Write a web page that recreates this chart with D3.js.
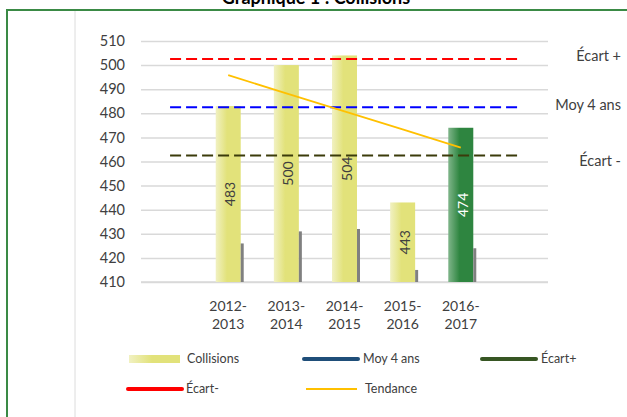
<!DOCTYPE html>
<html>
<head>
<meta charset="utf-8">
<script src="https://cdn.jsdelivr.net/npm/d3@7"></script>
<style>
  body { margin: 0; background: #fff; }
  text { font-family: Lato, "Open Sans", sans-serif; fill: #404040; }
</style>
</head>
<body>
<div id="chart"></div>
<script>
// Chart data
const periods = ["2012-2013", "2013-2014", "2014-2015", "2015-2016", "2016-2017"];
const collisions = [483, 500, 504, 443, 474];
const secondary = [426, 431, 432, 415, 424];
const tendance = [495.8, 488.3, 480.8, 473.3, 465.8];
const yTicks = [410, 420, 430, 440, 450, 460, 470, 480, 490, 500, 510];
const refNames = ["Écart +", "Moy 4 ans", "Écart -"];
const refValues = [502.5, 482.5, 462.5];
const refColors = ["#ff0000", "#0000ff", "#3b3b0a"];
const legendNames = ["Collisions", "Moy 4 ans", "Écart+", "Écart-", "Tendance"];
const legendColors = ["#e2e27a", "#1f4e79", "#375623", "#ff0000", "#ffc000"];

const W = 627, H = 417;
const svg = d3.select("#chart").append("svg")
  .attr("width", W).attr("height", H);

const defs = svg.append("defs");
function barGrad(id, c0, c1) {
  const g = defs.append("linearGradient").attr("id", id)
    .attr("x1", "0%").attr("x2", "100%").attr("y1", "0%").attr("y2", "0%");
  g.append("stop").attr("offset", "0%").attr("stop-color", c0);
  g.append("stop").attr("offset", "45%").attr("stop-color", c1);
  g.append("stop").attr("offset", "100%").attr("stop-color", c1);
}
barGrad("gYellow", "#f1f1c2", "#e2e27a");
barGrad("gGreen", "#7fb58a", "#2e8540");

// Title (cut at the top, like the source)
svg.append("text")
  .attr("x", 316).attr("y", 3.5)
  .attr("text-anchor", "middle")
  .style("font-size", "18px").style("font-weight", "bold").style("fill", "#000")
  .text("Graphique 1 : Collisions");

// Outer frame
svg.append("rect")
  .attr("x", 7).attr("y", 10).attr("width", 700).attr("height", 500)
  .attr("fill", "none").attr("stroke", "#3a8a45").attr("stroke-width", 2);

svg.append("line")
  .attr("x1", 75).attr("x2", 75).attr("y1", 11).attr("y2", H)
  .attr("stroke", "#dcdcdc").attr("stroke-width", 1);

// Scales
const plotLeft = 141, plotRight = 548, plotTop = 41, plotBottom = 282;
const slots = ["start"].concat(periods, ["end"]);
const x = d3.scaleBand().domain(slots).range([plotLeft, plotRight]).paddingInner(0.57).paddingOuter(0.285);
const y = d3.scaleLinear().domain([410, 510]).range([plotBottom, plotTop]);
const cx = d => x(d) + x.bandwidth() / 2;

// Y axis with gridlines
const yAxis = svg.append("g")
  .attr("transform", `translate(${plotLeft},0)`)
  .call(d3.axisLeft(y).tickValues(yTicks).tickSize(-(plotRight - plotLeft)).tickPadding(16));
yAxis.select(".domain").remove();
yAxis.selectAll("line").attr("stroke", "#d9d9d9").attr("stroke-width", 1.5);
yAxis.selectAll("text").style("font-size", "14.5px").style("fill", "#404040")
  .style("font-family", "Lato, sans-serif");

// X axis
const xAxis = svg.append("g")
  .attr("transform", `translate(0,${plotBottom})`)
  .call(d3.axisBottom(x).tickValues(periods).tickSize(0).tickFormat(""));
xAxis.select(".domain").remove();
svg.append("line")
  .attr("x1", plotLeft).attr("x2", plotRight).attr("y1", plotBottom).attr("y2", plotBottom)
  .attr("stroke", "#d9d9d9").attr("stroke-width", 1.5);
xAxis.selectAll(".tick").each(function(d) {
  const parts = d.split("-");
  const t = d3.select(this).append("text")
    .attr("text-anchor", "middle")
    .style("font-size", "14px").style("fill", "#404040")
    .style("font-family", "Lato, sans-serif");
  t.append("tspan").attr("x", 0).attr("y", 29).text(parts[0] + "-");
  t.append("tspan").attr("x", 0).attr("y", 47).text(parts[1]);
});

// Bars
const bw = x.bandwidth();
svg.selectAll(".bar").data(periods).enter().append("rect")
  .attr("x", d => x(d))
  .attr("y", (d, i) => y(collisions[i]))
  .attr("width", bw)
  .attr("height", (d, i) => plotBottom - y(collisions[i]))
  .attr("fill", (d, i) => i === periods.length - 1 ? "url(#gGreen)" : "url(#gYellow)");

svg.selectAll(".bar2").data(periods).enter().append("rect")
  .attr("x", d => x(d) + bw)
  .attr("y", (d, i) => y(secondary[i]))
  .attr("width", 3)
  .attr("height", (d, i) => plotBottom - y(secondary[i]))
  .attr("fill", "#808080");

// Bar value labels
svg.selectAll(".lbl").data(periods).enter().append("text")
  .attr("transform", (d, i) => `translate(${cx(d) + 7},${(y(collisions[i]) + plotBottom) / 2}) rotate(-90)`)
  .attr("text-anchor", "middle")
  .style("font-size", "14px")
  .style("fill", (d, i) => i === periods.length - 1 ? "#fff" : "#404040")
  .text((d, i) => collisions[i]);

// Reference lines
refValues.forEach((v, i) => {
  svg.append("line")
    .attr("x1", cx("start")).attr("x2", cx("end"))
    .attr("y1", y(v)).attr("y2", y(v))
    .attr("stroke", refColors[i]).attr("stroke-width", 2)
    .attr("stroke-dasharray", "11,5");
});

// Right side labels
const refLabelDy = [-3, -2, 5];
refNames.forEach((n, i) => {
  svg.append("text")
    .attr("x", 621).attr("y", y(refValues[i]) + refLabelDy[i])
    .attr("dy", "0.35em")
    .attr("text-anchor", "end")
    .style("font-size", "14.5px")
    .text(n);
});

// Trend line
svg.append("path")
  .datum(tendance)
  .attr("d", d3.line().x((d, i) => cx(periods[i])).y(d => y(d)))
  .attr("fill", "none").attr("stroke", "#ffc000").attr("stroke-width", 1.8);

// Legend
const legendPos = [[129, 359], [304, 359], [482, 359], [128, 389], [306, 389]];
legendNames.forEach((n, i) => {
  const [lx, ly] = legendPos[i];
  const g = svg.append("g").attr("transform", `translate(${lx},${ly})`);
  if (i === 0) {
    g.append("rect").attr("x", 0).attr("y", -4).attr("width", 51).attr("height", 8)
      .attr("fill", "url(#gYellow)");
  } else {
    g.append("line").attr("x1", 0).attr("x2", i === 4 ? 51 : 54).attr("y1", 0).attr("y2", 0)
      .attr("stroke", legendColors[i]).attr("stroke-width", i === 4 ? 2 : 4)
      .attr("stroke-linecap", i === 4 ? "butt" : "round");
  }
  g.append("text")
    .attr("x", i === 0 || i === 3 ? 58 : 59)
    .attr("y", 0).attr("dy", "0.35em")
    .style("font-size", "12.5px")
    .text(n);
});
</script>
</body>
</html>
